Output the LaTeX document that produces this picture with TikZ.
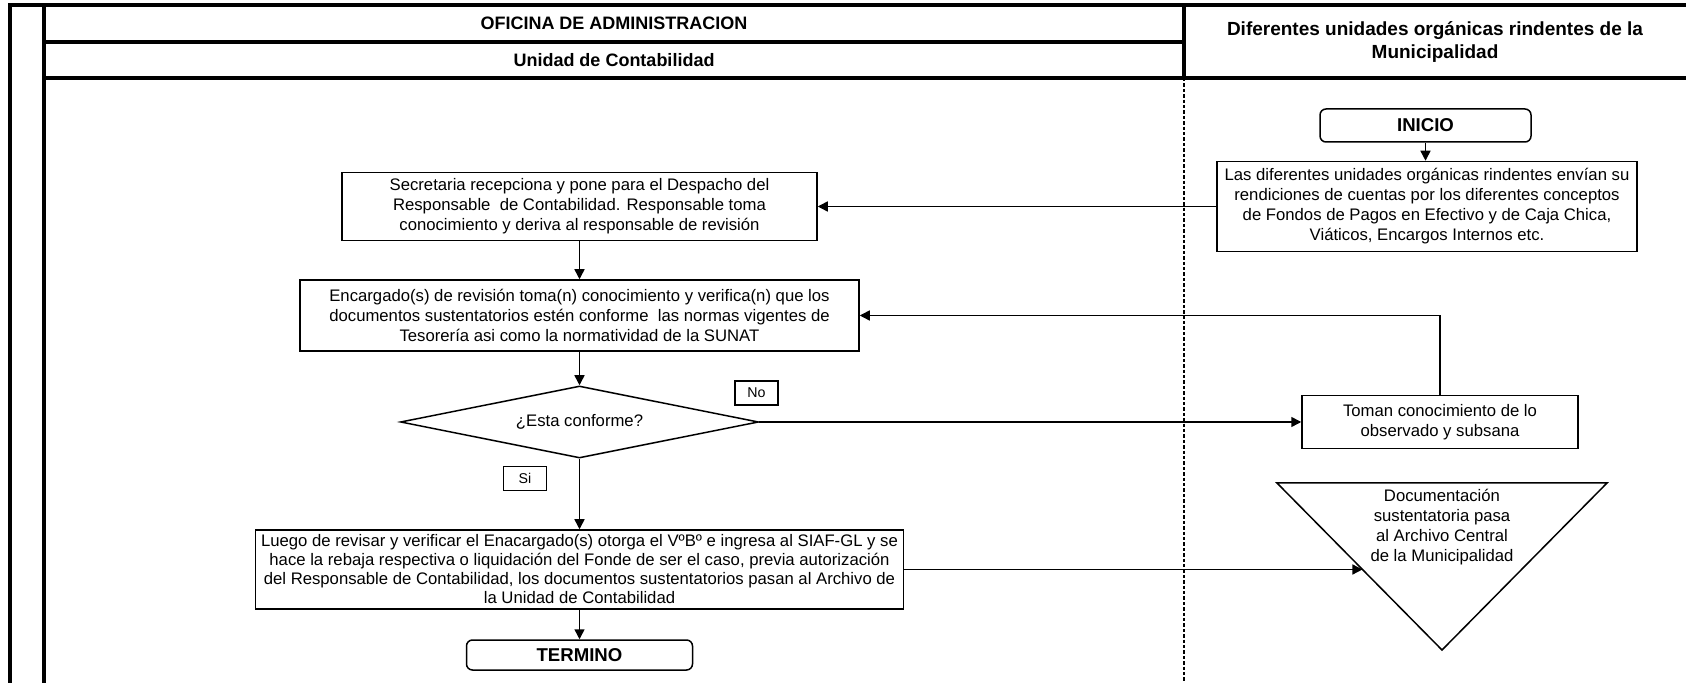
\documentclass[tikz,border=0pt]{standalone}
\usepackage{fontspec}
\setmainfont{Liberation Sans}
\usetikzlibrary{arrows.meta,shapes.geometric,intersections}
\begin{document}
\begin{tikzpicture}[x=0.5pt,y=-0.5pt,
  frame/.style={line width=2pt},
  lane/.style={line width=0.9pt, dash pattern=on 1.7pt off 1pt},
  box/.style={draw, line width=0.75pt, align=center, inner sep=1pt,
    font=\fontsize{8.35}{10}\selectfont},
  term/.style={draw, line width=0.75pt, rounded corners=3pt,
    font=\bfseries\fontsize{9.3}{11}\selectfont},
  tag/.style={draw, line width=0.75pt, inner sep=0pt,
    minimum width=21.5pt, minimum height=12pt, font=\fontsize{7.1}{8}\selectfont},
  head/.style={align=center, font=\bfseries\fontsize{9}{11.8}\selectfont},
  arr/.style={line width=0.75pt, -{Triangle[length=5pt,width=5pt]}},
  link/.style={line width=0.75pt}
]
\useasboundingbox (0,0) rectangle (1686,683);

% swimlane frame
\draw[frame] (10,683) -- (10,5) -- (1686,5);
\draw[frame] (44,5) -- (44,683);
\draw[frame] (44,42) -- (1184,42);
\draw[frame] (44,78) -- (1686,78);
\draw[frame] (1184,5) -- (1184,78);
\draw[lane] (1184,78) -- (1184,683);

% lane headers
\node[head] (ofi) at (614,23) {OFICINA DE ADMINISTRACION};
\node[head] (uc) at (614,60) {Unidad de Contabilidad};
\node[head, font=\bfseries\fontsize{9.5}{11.8}\selectfont] (dif) at (1435,42)
  {Diferentes unidades orgánicas rindentes de la\\Municipalidad};

% process steps
\node[term, minimum width=105.5pt, minimum height=16.5pt] (ini) at (1425.5,125.5) {INICIO};
\node[box, minimum width=210pt, minimum height=45pt] (las) at (1427,206.5)
  {Las diferentes unidades orgánicas rindentes envían su\\
   rendiciones de cuentas por los diferentes conceptos\\
   de Fondos de Pagos en Efectivo y de Caja Chica,\\
   Viáticos, Encargos Internos etc.};
\node[box, minimum width=237.5pt, minimum height=34pt] (sec) at (579.5,206.5)
  {Secretaria recepciona y pone para el Despacho del\\
   Responsable\ \ de Contabilidad. Responsable toma\\
   conocimiento y deriva al responsable de revisión};
\node[box, minimum width=279.5pt, minimum height=35.5pt] (enc) at (579.5,315.5)
  {Encargado(s) de revisión toma(n) conocimiento y verifica(n) que los\\
   documentos sustentatorios estén conforme\ \ las normas vigentes de\\
   Tesorería asi como la normatividad de la SUNAT};
\node[draw, line width=0.75pt, shape=diamond, shape aspect=5, inner sep=0pt,
  minimum width=179pt, minimum height=36pt, font=\fontsize{8.35}{10}\selectfont]
  (dec) at (579.5,422) {¿Esta conforme?};
\node[box, minimum width=138pt, minimum height=26.5pt] (tom) at (1440,422)
  {Toman conocimiento de lo\\observado y subsana};
\node[box, minimum width=324pt, minimum height=39.5pt, inner sep=0.5pt,
  font=\fontsize{8.35}{9.5}\selectfont] (lue) at (579.5,569.5)
  {Luego de revisar y verificar el Enacargado(s) otorga el VºBº e ingresa al SIAF-GL y se\\
   hace la rebaja respectiva o liquidación del Fonde de ser el caso, previa autorización\\
   del Responsable de Contabilidad, los documentos sustentatorios pasan al Archivo de\\
   la Unidad de Contabilidad};
\node[term, minimum width=113pt, minimum height=15pt] (ter) at (579.5,655) {TERMINO};

% decision labels
\node[tag] (no) at (756.5,393) {No};
\node[tag] (si) at (525,478.5) {Si};

% archive symbol
\coordinate (a1) at (1277,483);
\coordinate (a2) at (1607,483);
\coordinate (a3) at (1442,650);
\draw[link, name path=arch] (a1) -- (a2) -- (a3) -- cycle;
\node[align=center, anchor=north, inner sep=0pt, font=\fontsize{8.35}{10}\selectfont]
  (archt) at (1442,489) {Documentación\\sustentatoria pasa\\al Archivo Central\\de la Municipalidad};

% connectors
\draw[arr] (ini.south) -- (ini.south |- las.north);
\draw[arr] (las.west) -- (sec.east);
\draw[arr] (sec.south) -- (enc.north);
\draw[arr] (enc.south) -- (dec.north);
\draw[arr] (dec.east) -- (tom.west);
\draw[arr] (tom.north) |- (enc.east);
\draw[arr] (dec.south) -- (lue.north);
\draw[arr] (lue.south) -- (ter.north);
\path[name path=ray] (lue.east) -- ++(900,0);
\path[name intersections={of=ray and arch, sort by=ray, by={ain}}];
\draw[arr] (lue.east) -- (ain);
\end{tikzpicture}
\end{document}
